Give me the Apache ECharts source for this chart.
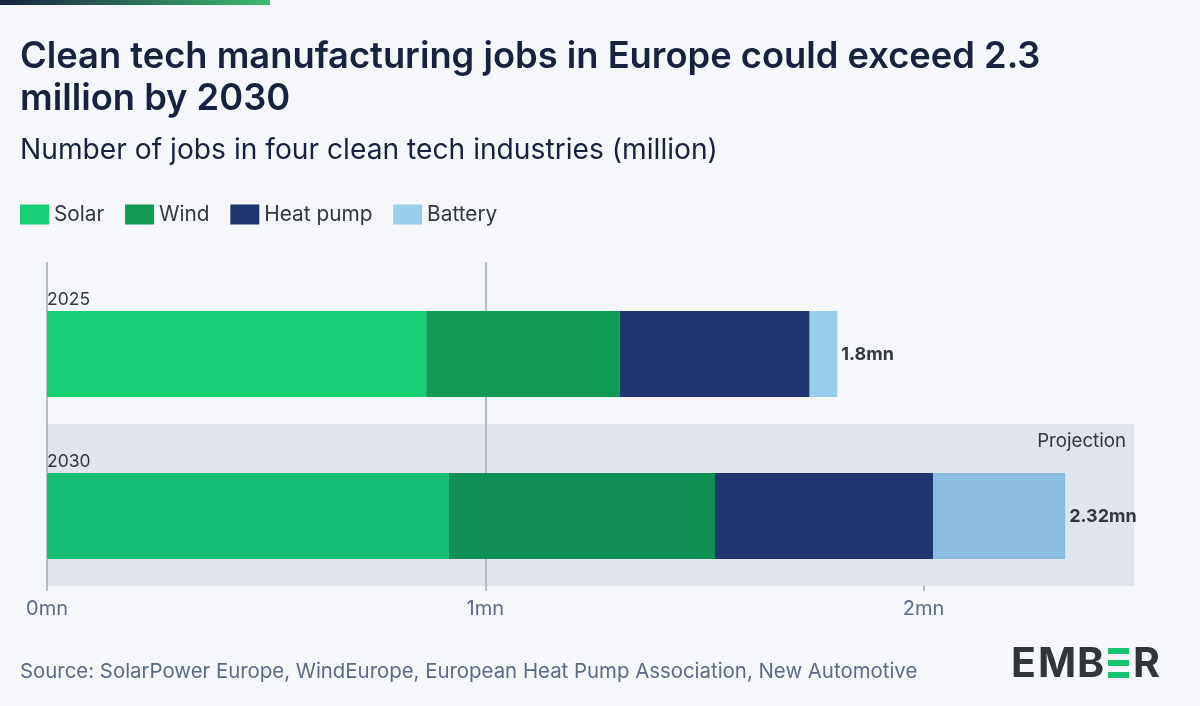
<!DOCTYPE html>
<html><head><meta charset="utf-8">
<style>html,body{margin:0;padding:0;background:#F5F7FB}#c{width:1200px;height:706px}</style>
<script src="https://cdn.jsdelivr.net/npm/echarts@6/dist/echarts.min.js"></script>
</head><body><div id="c"></div>
<script>
const categories = ['2025', '2030'];
const solar = [0.865, 0.917];
const wind = [0.442, 0.607];
const heatPump = [0.433, 0.498];
const battery = [0.063, 0.301];
const totalLabels = ['1.8mn', '2.32mn'];
const tickValues = [0, 1, 2];
const axisMax = 2.48;
const projectionBand = [null, axisMax];

const FONT = 'Inter';
const colours = {
  Solar: ['#15D072', '#14BF72'],
  Wind: ['#109A56', '#118E55'],
  'Heat pump': ['#1F3670', '#203670'],
  Battery: ['#9BCDEC', '#8BBCE0']
};
function barSeries(name, values, extra) {
  return Object.assign({
    name, type: 'bar', stack: 'jobs', xAxisIndex: 1, yAxisIndex: 1, barWidth: 86, z: 3,
    itemStyle: { color: colours[name][0] },
    emphasis: { disabled: true },
    data: values.map((v, i) => ({ value: v, itemStyle: { color: colours[name][i] } }))
  }, extra || {});
}
function logoLetter(text, left) {
  return { type: 'text', left, top: 644, style: { text, font: '700 41px "Inter"', fill: '#333638' } };
}
const chart = echarts.init(document.getElementById('c'), null, { renderer: 'canvas' });
chart.setOption({
  animation: false,
  backgroundColor: '#F5F7FB',
  textStyle: { fontFamily: FONT },
  title: [
    { text: 'Clean tech manufacturing jobs in Europe could exceed 2.3\nmillion by 2030', left: 15, top: 31,
      textStyle: { fontFamily: FONT, fontSize: 36.3, fontWeight: 600, color: '#17223F', lineHeight: 42 } },
    { text: 'Number of jobs in four clean tech industries (million)', left: 15, top: 132,
      textStyle: { fontFamily: FONT, fontSize: 28.2, fontWeight: 400, color: '#17223F' } },
    { text: 'Source: SolarPower Europe, WindEurope, European Heat Pump Association, New Automotive', left: 15, top: 657,
      textStyle: { fontFamily: FONT, fontSize: 20.4, fontWeight: 400, color: '#5C6B85' } }
  ],
  legend: {
    left: 15, top: 199, itemWidth: 29, itemHeight: 20, itemGap: 20.7, icon: 'rect',
    selectedMode: false,
    data: ['Solar', 'Wind', 'Heat pump', 'Battery'],
    textStyle: { fontFamily: FONT, fontSize: 20.8, color: '#33373D' }
  },
  grid: [
    { left: 47, width: 1087, top: 262, height: 324 },
    { left: 47, width: 1087, top: 273, height: 324 }
  ],
  xAxis: [
    { type: 'value', gridIndex: 0, min: 0, max: axisMax, z: 2,
      axisLine: { show: false },
      axisTick: { show: true, length: 5, customValues: tickValues, lineStyle: { color: '#A0A9BD', width: 1.5 } },
      splitLine: { show: true, showMaxLine: false, lineStyle: { color: '#A0A9BD', width: 1.5 } },
      axisLabel: { customValues: tickValues, margin: 13, fontFamily: FONT, fontSize: 20, color: '#5C6B85', formatter: v => v + 'mn' } },
    { type: 'value', gridIndex: 1, min: 0, max: axisMax, show: false, splitLine: { show: false } }
  ],
  yAxis: [
    { type: 'category', gridIndex: 0, inverse: true, data: categories,
      axisLine: { show: false }, axisTick: { show: false }, axisLabel: { show: false } },
    { type: 'category', gridIndex: 1, inverse: true, data: categories,
      axisLine: { show: false }, axisTick: { show: false }, axisLabel: { show: false } }
  ],
  series: [
    { name: 'Projection', type: 'bar', xAxisIndex: 0, yAxisIndex: 0, barWidth: '100%', z: 1, silent: true,
      itemStyle: { color: '#E0E4EC' }, data: projectionBand,
      label: { show: true, position: 'insideTopRight', distance: 8, formatter: 'Projection', fontFamily: FONT, fontSize: 18.7, color: '#33373D' } },
    barSeries('Solar', solar, {
      label: { show: true, position: 'insideTopLeft', distance: 0, offset: [0, -20], fontFamily: FONT, fontSize: 17.5, color: '#33373D', formatter: p => p.name }
    }),
    barSeries('Wind', wind),
    barSeries('Heat pump', heatPump),
    barSeries('Battery', battery, {
      label: { show: true, position: 'right', distance: 4, offset: [0, 1], fontFamily: FONT, fontSize: 18, fontWeight: 700, color: '#33373D',
        formatter: p => totalLabels[p.dataIndex] }
    })
  ],
  graphic: [
    { type: 'rect', left: 0, top: 0, shape: { width: 270, height: 5 },
      style: { fill: new echarts.graphic.LinearGradient(0, 0, 1, 0, [{ offset: 0, color: '#17223F' }, { offset: 1, color: '#3DBB6E' }]) } },
    logoLetter('E', 1011),
    logoLetter('M', 1038),
    logoLetter('B', 1077),
    { type: 'rect', left: 1108, top: 648, shape: { width: 21, height: 6 }, style: { fill: '#14C46E' } },
    { type: 'rect', left: 1108, top: 660, shape: { width: 21, height: 6 }, style: { fill: '#14C46E' } },
    { type: 'rect', left: 1108, top: 672, shape: { width: 21, height: 6 }, style: { fill: '#14C46E' } },
    logoLetter('R', 1133)
  ]
});
</script></body></html>
